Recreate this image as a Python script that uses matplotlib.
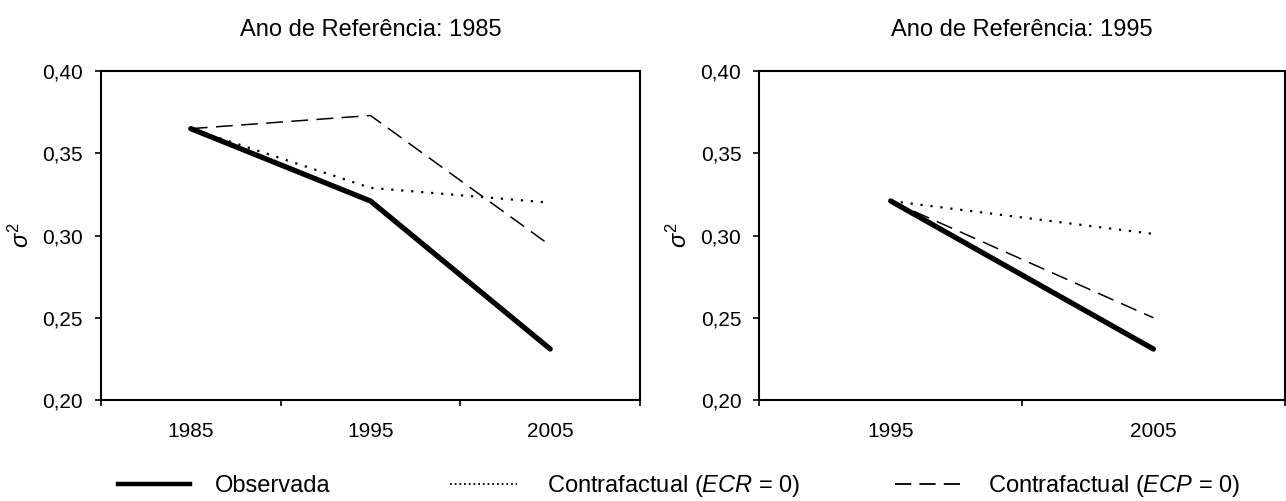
import matplotlib
matplotlib.use("Agg")
import matplotlib.pyplot as plt
from matplotlib.lines import Line2D
from matplotlib.ticker import FixedLocator, NullFormatter

plt.rcParams["font.family"] = ["Liberation Sans", "DejaVu Sans"]
plt.rcParams["mathtext.fontset"] = "custom"
plt.rcParams["mathtext.rm"] = "Liberation Sans"
plt.rcParams["mathtext.it"] = "Liberation Sans:italic"

# data
years_85 = ["1985", "1995", "2005"]
obs_85 = [0.365, 0.321, 0.231]
ecr_85 = [0.365, 0.329, 0.320]
ecp_85 = [0.365, 0.373, 0.294]

years_95 = ["1995", "2005"]
obs_95 = [0.321, 0.231]
ecr_95 = [0.321, 0.301]
ecp_95 = [0.321, 0.250]

yticks = [0.20, 0.25, 0.30, 0.35, 0.40]
titles = ["Ano de Referência: 1985", "Ano de Referência: 1995"]
labels = ["Observada", "Contrafactual ($\\mathit{ECR}$ = 0)", "Contrafactual ($\\mathit{ECP}$ = 0)"]

FS_TICK = 15
FS_TEXT = 17
styles = [dict(color="k", lw=3.8, solid_capstyle="round"),
          dict(color="k", lw=1.6, ls=(0, (1, 3.5))),
          dict(color="k", lw=1.1, ls=(0, (11, 5.5)))]
leg_styles = [dict(color="k", lw=3.2),
              dict(color="k", lw=1.3, ls=(0, (1, 1.6))),
              dict(color="k", lw=1.3, ls=(0, (9, 4.5)))]

fig = plt.figure(figsize=(12.86, 5.01), dpi=100)
ax1 = fig.add_axes([0.0785, 0.2016, 0.4192, 0.6565])
ax2 = fig.add_axes([0.5905, 0.2016, 0.4085, 0.6565])


def panel(ax, cats, series, title):
    x = list(range(len(cats)))
    for vals, st in zip(series, styles):
        ax.plot(x, vals, **st)
    ax.set_xlim(-0.5, len(cats) - 0.5)
    ax.set_ylim(0.20, 0.40)
    ax.set_yticks(yticks)
    ax.set_yticklabels([f"{v:.2f}".replace(".", ",") for v in yticks], fontsize=FS_TICK)
    ax.xaxis.set_major_locator(FixedLocator([i - 0.5 for i in range(len(cats) + 1)]))
    ax.xaxis.set_major_formatter(NullFormatter())
    ax.xaxis.set_minor_locator(FixedLocator(x))
    ax.set_xticklabels(cats, minor=True, fontsize=FS_TICK)
    ax.tick_params(axis="x", which="minor", length=0, pad=16)
    ax.tick_params(axis="both", which="major", length=4, width=1.2, direction="out")
    ax.tick_params(axis="y", pad=9)
    for s in ax.spines.values():
        s.set_linewidth(1.5)
    ax.set_ylabel(r"$\sigma^2$", fontsize=FS_TEXT, labelpad=6)
    ax.set_title(title, fontsize=FS_TEXT, pad=25)


panel(ax1, years_85, [obs_85, ecr_85, ecp_85], titles[0])
panel(ax2, years_95, [obs_95, ecr_95, ecp_95], titles[1])

anchors = [0.0918, 0.350, 0.696]
hlens = [3.05, 2.85, 2.75]
hpads = [1.06, 1.27, 1.19]
for lab, st, xa, hl, hp in zip(labels, leg_styles, anchors, hlens, hpads):
    h = Line2D([], [], **st)
    fig.legend([h], [lab], loc="center left", bbox_to_anchor=(xa, 0.03),
               frameon=False, fontsize=FS_TEXT, handlelength=hl, handletextpad=hp,
               borderaxespad=0, borderpad=0)

fig.savefig("out.png", dpi=100)
